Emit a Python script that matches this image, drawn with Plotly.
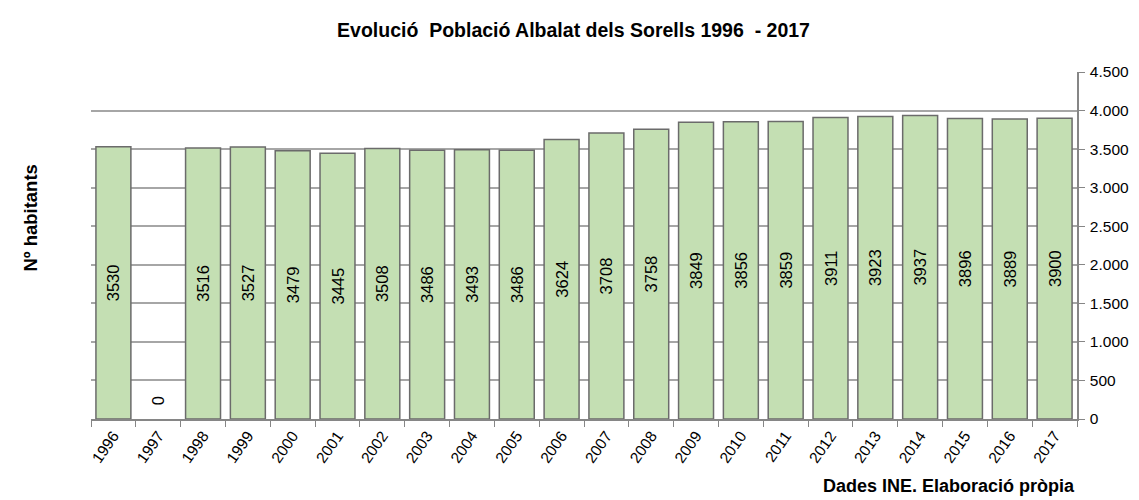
import plotly.graph_objects as go

years = [str(y) for y in range(1996, 2018)]
population = [3530, 0, 3516, 3527, 3479, 3445, 3508, 3486, 3493, 3486, 3624,
              3708, 3758, 3849, 3856, 3859, 3911, 3923, 3937, 3896, 3889, 3900]
y_ticks = [0, 500, 1000, 1500, 2000, 2500, 3000, 3500, 4000, 4500]

title = "Evolució  Població Albalat dels Sorells 1996  - 2017"
y_title = "Nº habitants"
source = "Dades INE. Elaboració pròpia"

font = "Liberation Sans, Arial, sans-serif"

fig = go.Figure(go.Bar(
    x=years, y=population,
    text=[str(v) for v in population],
    textposition=["none" if v == 0 else "inside" for v in population],
    insidetextanchor="middle",
    textangle=-90,
    textfont=dict(family=font, size=16.5, color="#000000"),
    marker=dict(color="#C4DFB3",
                line=dict(color="#6B6B6B",
                          width=[0 if v == 0 else 1.5 for v in population])),
))

for i, v in enumerate(population):
    if v == 0:
        fig.add_annotation(x=i, y=v, text=str(v), textangle=-90, showarrow=False,
                           yshift=18, font=dict(size=16.5, color="#000000"))

# page body adds an 8px offset; size the figure so the plot area lands in place
fig.update_layout(
    width=1131, height=492,
    margin=dict(l=83, r=62, t=64, b=81),
    plot_bgcolor="white", paper_bgcolor="white",
    separators=",.",
    bargap=0.22,
    showlegend=False,
    font=dict(family=font, size=16, color="#000000"),
    title=dict(text="<b>" + title + "</b>", x=0.5, xanchor="center",
               y=0.955, yanchor="middle", font=dict(size=19.5)),
)
fig.update_xaxes(
    type="category", tickson="boundaries", ticks="outside", ticklen=6,
    tickcolor="#868686", showline=True, linecolor="#868686", linewidth=1.5,
    tickangle=-55, showgrid=False, automargin=False,
    tickfont=dict(size=15.5),
)
fig.update_yaxes(
    side="right", range=[0, 4500], tickvals=y_ticks, tickformat=",d",
    ticks="outside", ticklen=6, tickcolor="#868686",
    showline=True, linecolor="#868686", linewidth=1.5,
    showgrid=True, gridcolor="#A6A6A6", gridwidth=1.5,
    zeroline=False, tickfont=dict(size=15.5), automargin=False,
    ticklabelstandoff=2,
)
fig.add_annotation(text="<b>" + y_title + "</b>", xref="paper", yref="paper",
                   x=-0.074, y=0.579, textangle=-90, showarrow=False,
                   font=dict(size=18.5))
fig.add_annotation(text="<b>" + source + "</b>", xref="paper", yref="paper",
                   x=1.0, y=-0.193, xanchor="right", yanchor="middle",
                   showarrow=False, font=dict(size=18))

fig.write_html("out.html")
